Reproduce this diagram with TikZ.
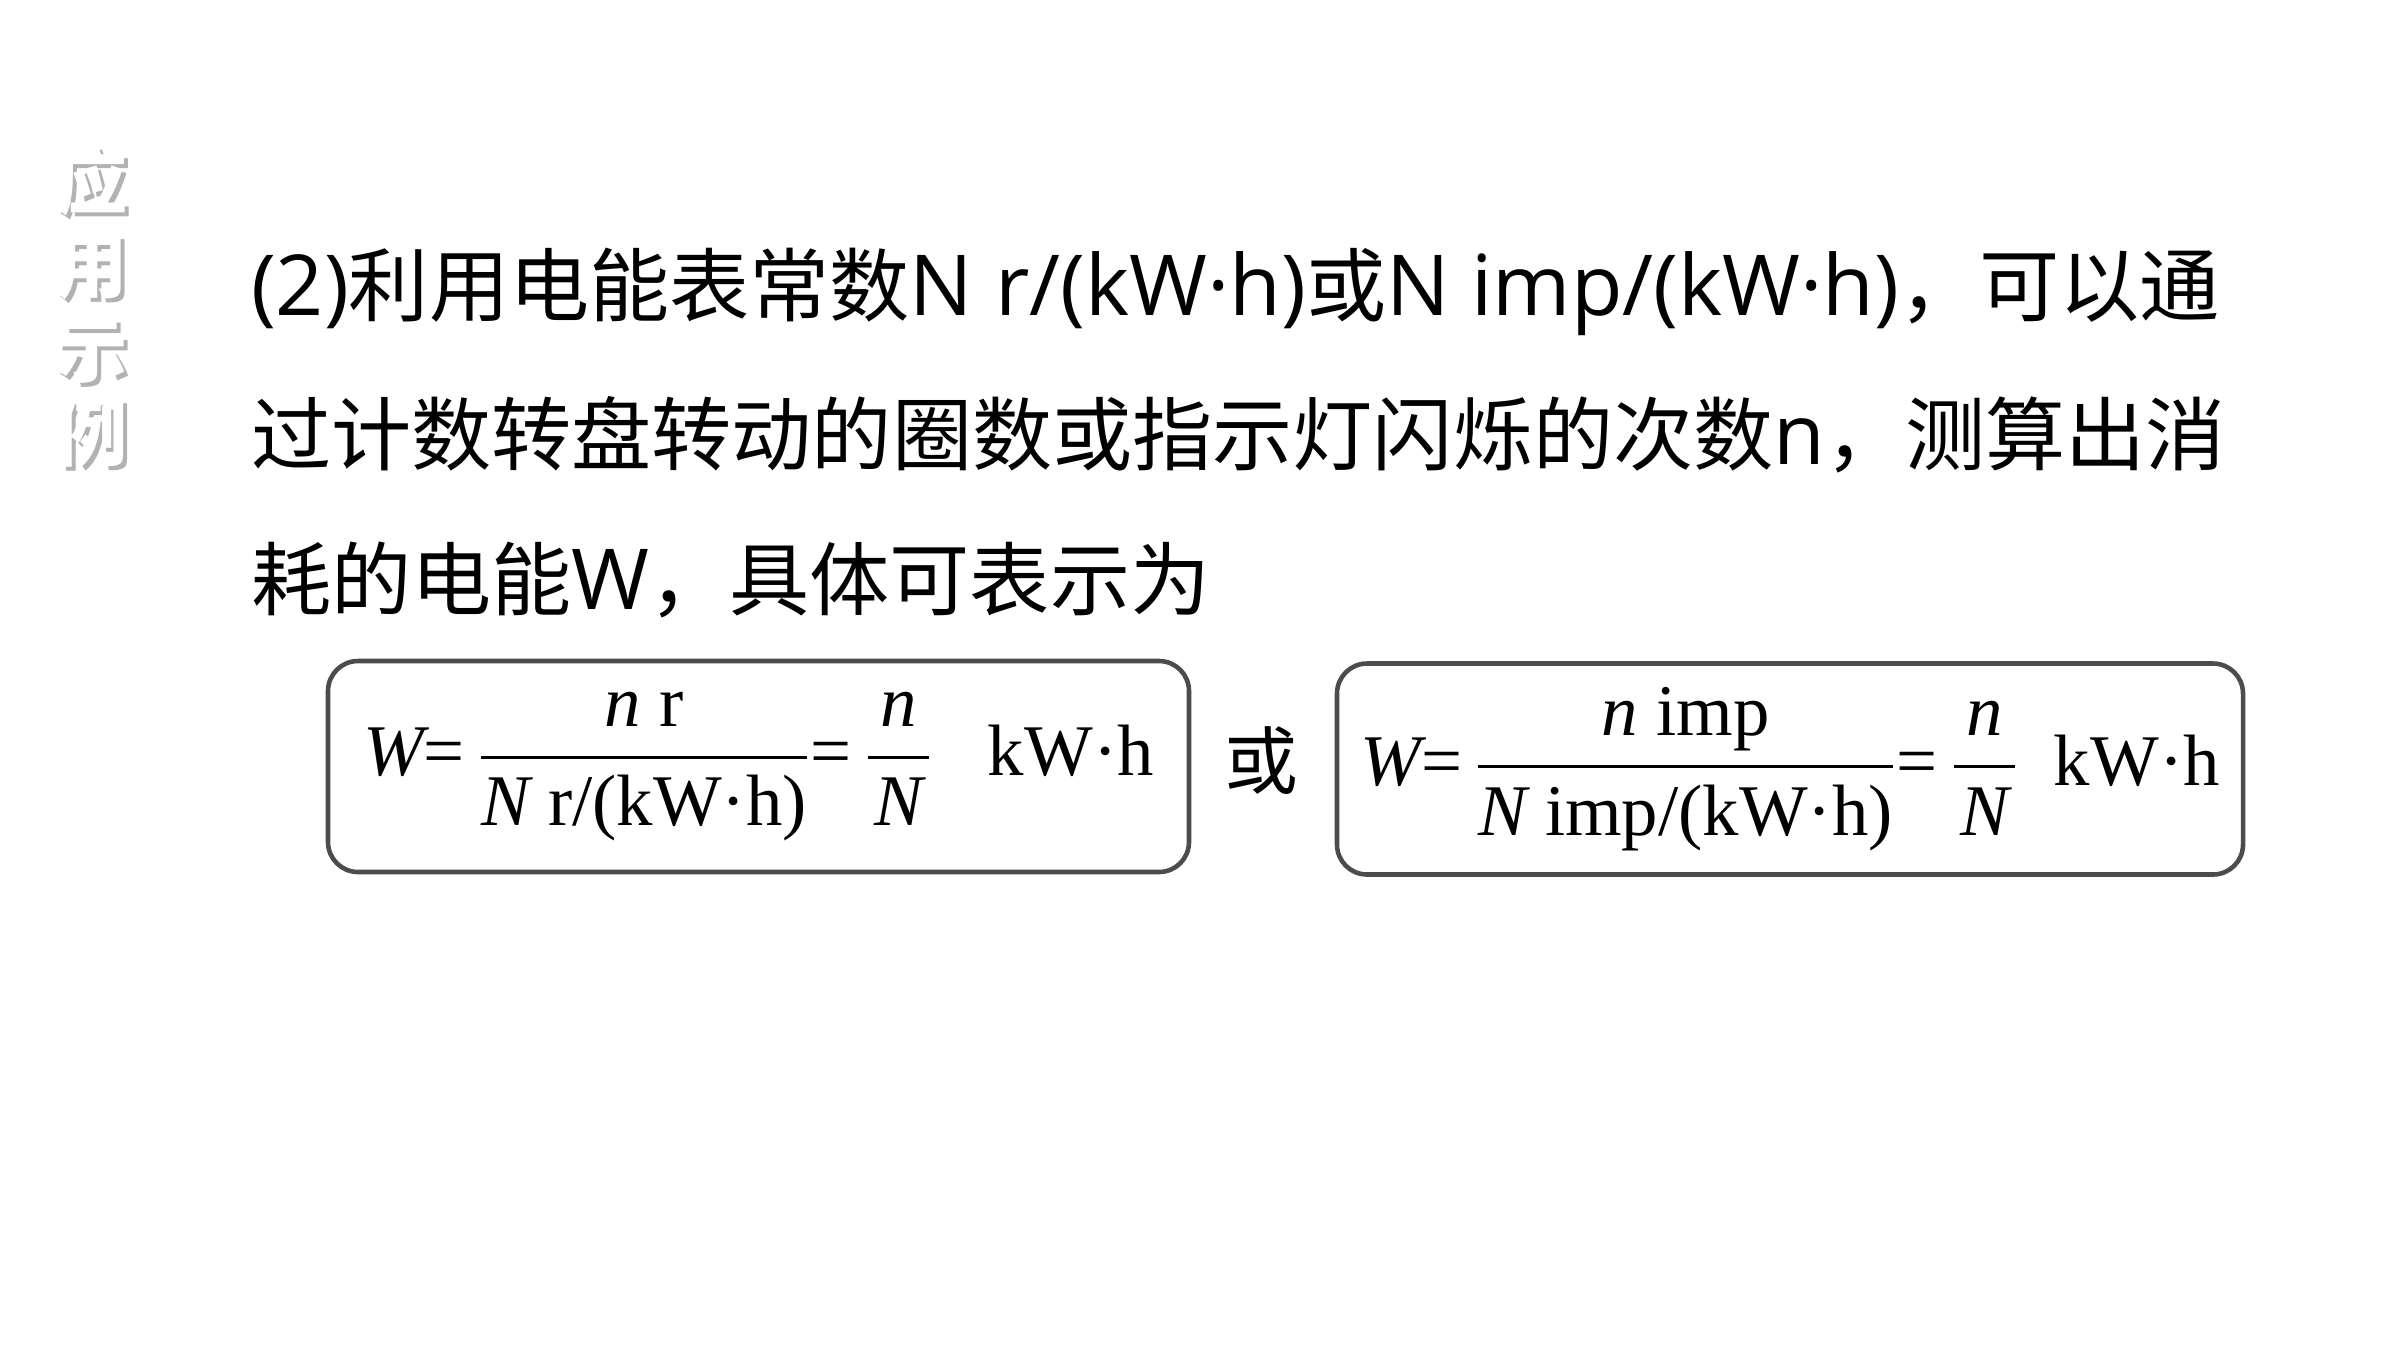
\documentclass[tikz,border=0pt]{standalone}
\usepackage{amsmath}
\usepackage{fontspec}
\setmainfont{Noto Sans CJK SC}
\newfontfamily\latfont[Scale=1.05]{Open Sans}
\newfontfamily\tim{Liberation Serif}
\newcommand{\lat}[1]{{\latfont #1}}
\newcommand{\fr}[2]{\genfrac{}{}{0.8pt}{0}{#1}{#2}}
\usetikzlibrary{positioning}

\begin{document}
\begin{tikzpicture}[
	                   x = 1cm,
	                   y = 1cm,
	      every node/.style = {inner sep=0pt, outer sep=0pt},
	        bodytext/.style = {anchor=west, font=\fontsize{22.8pt}{28pt}\selectfont},
	       sidetitle/.style = {align=center, font=\fontsize{20.5pt}{23.9pt}\selectfont\bfseries},
	      formulabox/.style = {draw=black!70, line width=1.3pt, rounded corners=0.3cm,
	                           minimum height=2.11cm, font=\fontsize{20.7pt}{24pt}\selectfont\tim},
	                     ]
	\useasboundingbox[fill=white] (0,0) rectangle (24,-13.5);
	% side title, white with a grey shadow
	\node[sidetitle, text=black!30] (titleshadow) at (0.96,-3.11) {应\\用\\示\\例};
	\node[sidetitle, text=white] (title) at (0.92,-3.07) {应\\用\\示\\例};
	% text
	\node[bodytext] (line1) at (2.51,-2.92) {\lat{(2)}利用电能表常数\lat{N r/(kW·h)}或\lat{N imp/(kW·h)}，可以通};
	\node[bodytext] (line2) at (2.51,-4.35) {过计数转盘转动的圈数或指示灯闪烁的次数\lat{n}，测算出消};
	\node[bodytext] (line3) at (2.51,-5.80) {耗的电能\lat{W}，具体可表示为};
	% formulas
	\node[formulabox, minimum width=8.61cm] (boxr) at (7.585,-7.665)
		{$\mbox{\itshape W}\mbox{=}\,\fr{\mbox{\itshape n\upshape\ r}}{\mbox{\itshape N\upshape\ r/(kW·h)}}\mbox{=}\,\fr{\mbox{\itshape\hspace{0.06cm}n\hspace{0.06cm}}}{\mbox{\itshape\hspace{0.06cm}N\hspace{0.06cm}}}\hspace{0.55cm}\mbox{kW·h}$};
	\node[font=\fontsize{21pt}{24pt}\selectfont] (orword) at (12.61,-7.61) {或};
	\node[formulabox, minimum width=9.06cm] (boxi) at (17.90,-7.69)
		{$\mbox{\itshape W}\mbox{=}\,\fr{\mbox{\itshape n\upshape\ imp}}{\mbox{\itshape N\upshape\ imp/(kW·h)}}\mbox{=}\,\fr{\mbox{\itshape\hspace{0.06cm}n\hspace{0.06cm}}}{\mbox{\itshape\hspace{0.06cm}N\hspace{0.06cm}}}\hspace{0.35cm}\mbox{kW·h}$};
\end{tikzpicture}
\end{document}
